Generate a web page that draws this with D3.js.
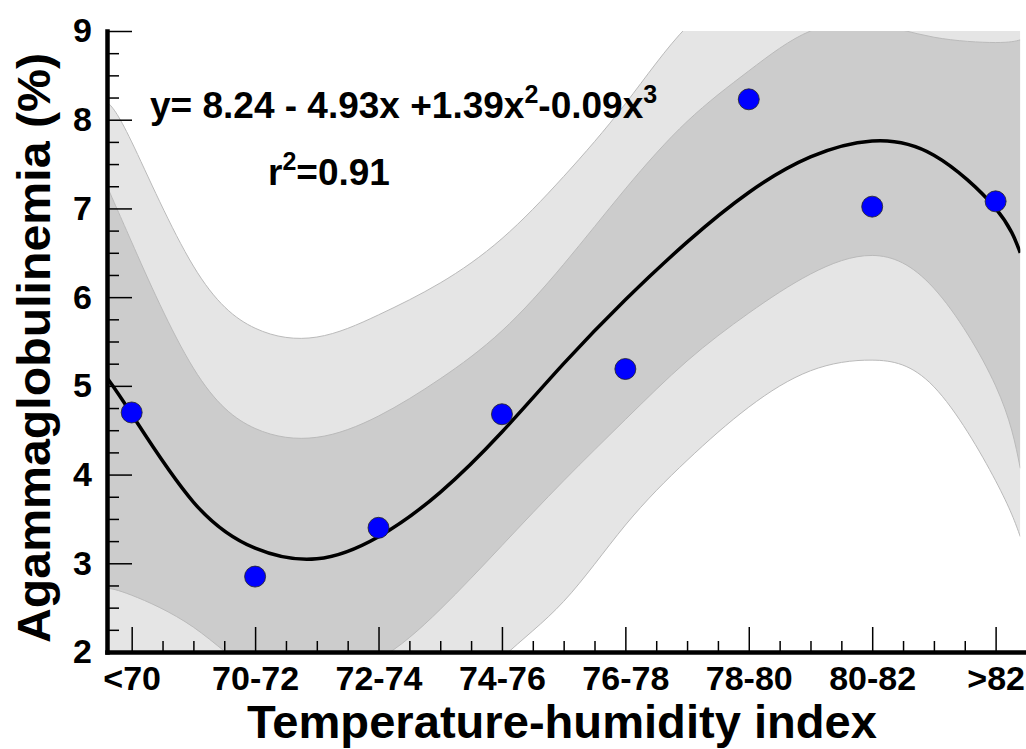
<!DOCTYPE html>
<html>
<head>
<meta charset="utf-8">
<script src="https://cdn.jsdelivr.net/npm/d3@7/dist/d3.min.js"></script>
<style>
  body { margin: 0; background: #fff; }
  text { font-family: "Liberation Sans", Arial, sans-serif; font-weight: bold; fill: #000; }
</style>
</head>
<body>
<svg id="chart" width="1026" height="749"></svg>
<script>
// categories of the x axis and their numeric position (1..8)
const categories = ["<70", "70-72", "72-74", "74-76", "76-78", "78-80", "80-82", ">82"];
const catPos = [1, 2, 3, 4, 5, 6, 7, 8];
// observed agammaglobulinemia (%)
const agammaPct = [4.70, 2.85, 3.40, 4.68, 5.19, 8.23, 7.02, 7.08];

// fitted curve and bands at these x positions
const bandX      = [0.8, 1, 1.5, 2, 2.5, 3, 3.5, 4, 4.5, 5, 5.5, 6, 6.5, 7, 7.5, 8, 8.2];
const fitLine    = [5.09, 4.68, 3.69, 3.17, 3.05, 3.30, 3.80, 4.48, 5.25, 5.97, 6.62, 7.18, 7.58, 7.76, 7.60, 7.00, 6.50];
const innerUpper = [7.25, 6.62, 5.20, 4.52, 4.42, 4.66, 5.08, 5.62, 6.37, 7.22, 7.98, 8.55, 9.00, 9.08, 8.93, 8.87, 8.90];
const innerLower = [2.72, 2.64, 2.28, 1.78, 1.72, 1.92, 2.48, 3.20, 3.93, 4.62, 5.28, 5.82, 6.26, 6.47, 6.10, 5.00, 4.07];
const outerUpper = [8.20, 7.75, 6.35, 5.65, 5.55, 5.80, 6.16, 6.66, 7.36, 8.18, 9.05, 9.55, 9.85, 9.95, 9.85, 9.95, 10.2];
const outerLower = [1.90, 1.55, 0.85, 0.40, 0.30, 0.60, 1.20, 1.93, 2.57, 3.43, 4.16, 4.76, 5.17, 5.29, 4.99, 3.93, 3.30];

const yTicks = [2, 3, 4, 5, 6, 7, 8, 9];

const svg = d3.select("#chart");

const x = d3.scaleLinear().domain([0.8, 8.23]).range([107, 1024]);
const y = d3.scaleLinear().domain([2, 9]).range([652, 31]);

svg.append("clipPath").attr("id", "plotclip")
  .append("rect")
  .attr("x", x(0.8)).attr("y", y(9))
  .attr("width", x(8.2) - x(0.8)).attr("height", y(2) - y(9));

const plot = svg.append("g").attr("clip-path", "url(#plotclip)");

const idx = d3.range(bandX.length);
const smooth = d3.curveNatural;

function band(lo, hi, fill) {
  const area = d3.area()
    .x(i => x(bandX[i]))
    .y0(i => y(lo[i]))
    .y1(i => y(hi[i]))
    .curve(smooth);
  plot.append("path").datum(idx).attr("d", area).attr("fill", fill);
  // thin darker edge on both sides of the band
  [lo, hi].forEach(arr => {
    plot.append("path").datum(idx)
      .attr("d", d3.line().x(i => x(bandX[i])).y(i => y(arr[i])).curve(smooth))
      .attr("fill", "none")
      .attr("stroke", "#bababa")
      .attr("stroke-width", 1);
  });
}

band(outerLower, outerUpper, "#e5e5e5");
band(innerLower, innerUpper, "#cccccc");

// fitted cubic
plot.append("path").datum(idx)
  .attr("d", d3.line().x(i => x(bandX[i])).y(i => y(fitLine[i])).curve(smooth))
  .attr("fill", "none")
  .attr("stroke", "#000")
  .attr("stroke-width", 3.5);

// observed points
svg.append("g").selectAll("circle")
  .data(catPos)
  .enter().append("circle")
  .attr("cx", d => x(d))
  .attr("cy", (d, i) => y(agammaPct[i]))
  .attr("r", 10.5)
  .attr("fill", "#0000ff")
  .attr("stroke", "#222")
  .attr("stroke-width", 0.8);

// minor ticks
const minorX = d3.range(1, 8, 0.25).filter(v => v % 1 !== 0);
svg.append("g")
  .attr("transform", `translate(0,${y(2)})`)
  .call(d3.axisBottom(x).tickValues(minorX).tickSize(-11).tickSizeOuter(0).tickFormat(""))
  .call(g => g.select(".domain").remove())
  .selectAll("line").attr("stroke-width", 1.5);

const minorY = d3.range(2, 9, 0.25).filter(v => v % 1 !== 0);
svg.append("g")
  .attr("transform", `translate(${x(0.8)},0)`)
  .call(d3.axisLeft(y).tickValues(minorY).tickSize(-12).tickSizeOuter(0).tickFormat(""))
  .call(g => g.select(".domain").remove())
  .selectAll("line").attr("stroke-width", 1.5);

// x axis
const xAxis = svg.append("g")
  .attr("transform", `translate(0,${y(2)})`)
  .call(d3.axisBottom(x).tickValues(catPos).tickSize(-25).tickSizeOuter(0).tickPadding(14)
    .tickFormat((d, i) => categories[i]));
xAxis.select(".domain").attr("stroke-width", 4.5).attr("stroke-linecap", "square");
xAxis.selectAll(".tick line").attr("stroke-width", 1.5);
xAxis.selectAll("text").attr("font-size", 34);

// y axis
const yAxis = svg.append("g")
  .attr("transform", `translate(${x(0.8)},0)`)
  .call(d3.axisLeft(y).tickValues(yTicks).tickSize(-25).tickSizeOuter(0).tickPadding(15)
    .tickFormat(d3.format("d")));
yAxis.select(".domain").attr("stroke-width", 4.5).attr("stroke-linecap", "square");
yAxis.selectAll(".tick line").attr("stroke-width", 1.5);
yAxis.selectAll("text").attr("font-size", 34);
svg.selectAll("g").attr("font-family", null);

// axis titles
svg.append("text")
  .attr("x", 562).attr("y", 738)
  .attr("text-anchor", "middle")
  .attr("font-size", 47)
  .attr("textLength", 630).attr("lengthAdjust", "spacingAndGlyphs")
  .text("Temperature-humidity index");

svg.append("text")
  .attr("transform", "translate(50,348) rotate(-90)")
  .attr("text-anchor", "middle")
  .attr("font-size", 47)
  .attr("textLength", 590).attr("lengthAdjust", "spacingAndGlyphs")
  .text("Agammaglobulinemia (%)");

// equation
const eq = svg.append("text").attr("x", 150).attr("y", 118).attr("font-size", 37);
eq.append("tspan").text("y= 8.24 - 4.93x +1.39x");
eq.append("tspan").attr("dy", -15).attr("font-size", 25).text("2");
eq.append("tspan").attr("dy", 15).text("-0.09x");
eq.append("tspan").attr("dy", -15).attr("font-size", 25).text("3");

const r2 = svg.append("text").attr("x", 268).attr("y", 185).attr("font-size", 37);
r2.append("tspan").text("r");
r2.append("tspan").attr("dy", -15).attr("font-size", 25).text("2");
r2.append("tspan").attr("dy", 15).text("=0.91");
</script>
</body>
</html>
